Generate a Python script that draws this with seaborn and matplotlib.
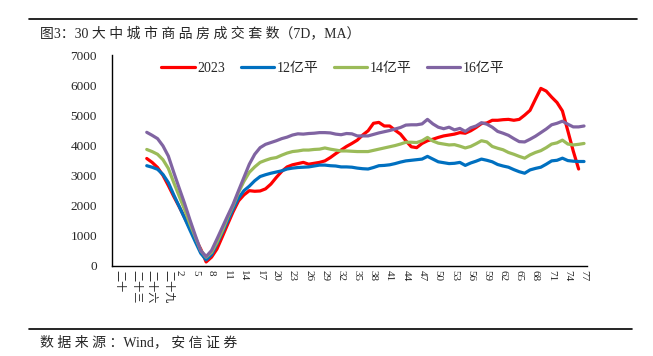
import numpy as np
import pandas as pd
import seaborn as sns
import matplotlib.pyplot as plt
from matplotlib.lines import Line2D

# day index: 0 = 腊月二十九, 1 = 正月初一, 2 = 初二 ...
days_all = list(range(-4, 78))
days_2023 = list(range(-4, 77))

sales_2023 = [3560, 3430, 3260, 3000, 2660, 2300, 1960, 1600, 1240, 890,
              550, 120, 280, 550, 960, 1380, 1790, 2150, 2350, 2490,
              2470, 2480, 2550, 2710, 2930, 3130, 3280, 3350, 3390, 3430,
              3370, 3400, 3430, 3480, 3590, 3720, 3840, 3960, 4060, 4170,
              4340, 4480, 4730, 4760, 4640, 4640, 4500, 4370, 4150, 3950,
              3920, 4060, 4150, 4200, 4260, 4310, 4340, 4370, 4420, 4400,
              4480, 4590, 4720, 4740, 4830, 4830, 4850, 4860, 4830, 4860,
              5000, 5160, 5530, 5890, 5800, 5600, 5420, 5140, 4480, 3810,
              3210]
area_12 = [3320, 3270, 3200, 3030, 2760, 2350, 1970, 1580, 1180, 790,
           410, 190, 360, 720, 1100, 1490, 1880, 2240, 2490, 2640,
           2820, 2960, 3020, 3070, 3110, 3150, 3210, 3240, 3260, 3270,
           3280, 3310, 3340, 3340, 3320, 3310, 3280, 3280, 3270, 3240,
           3220, 3210, 3260, 3320, 3330, 3350, 3390, 3440, 3480, 3500,
           3520, 3540, 3630, 3540, 3450, 3420, 3390, 3400, 3430, 3330,
           3410, 3470, 3540, 3500, 3450, 3360, 3310, 3270, 3190, 3120,
           3070, 3180, 3230, 3270, 3370, 3480, 3500, 3570, 3490, 3470,
           3460, 3460]
area_14 = [3860, 3790, 3700, 3520, 3230, 2760, 2310, 1870, 1390, 950,
           500, 280, 440, 770, 1160, 1600, 1990, 2430, 2800, 3100,
           3280, 3430, 3500, 3560, 3590, 3670, 3740, 3790, 3810, 3840,
           3840, 3860, 3870, 3910, 3870, 3840, 3810, 3810, 3800, 3790,
           3790, 3790, 3830, 3870, 3910, 3950, 3990, 4040, 4100, 4100,
           4090, 4150, 4260, 4140, 4070, 4040, 4010, 4020, 3970, 3910,
           3960, 4050, 4150, 4110, 3960, 3900, 3850, 3760, 3700, 3630,
           3570, 3680, 3760, 3820, 3920, 4040, 4080, 4170, 4040, 4010,
           4030, 4060]
area_16 = [4430, 4330, 4220, 3980, 3640, 3100, 2580, 2070, 1520, 1000,
           500, 300, 500, 880, 1270, 1660, 2040, 2490, 2930, 3370,
           3700, 3920, 4030, 4090, 4150, 4220, 4270, 4340, 4380, 4370,
           4390, 4400, 4420, 4420, 4410, 4370, 4350, 4390, 4380, 4310,
           4310, 4310, 4360, 4410, 4450, 4490, 4540, 4590, 4670, 4680,
           4680, 4710, 4860, 4710, 4600, 4550, 4600, 4510, 4560, 4460,
           4580, 4640, 4750, 4700, 4600, 4460, 4400, 4330, 4220, 4120,
           4110, 4200, 4300, 4420, 4540, 4680, 4730, 4800, 4700, 4610,
           4610, 4640]

series_names = ['2023', '12亿平', '14亿平', '16亿平']
palette = ['#FF0000', '#0070C0', '#9BBB59', '#8064A2']

tick_pos = [-9, -6, -3, 0] + list(range(2, 78, 3))
tick_labels = ['二十', '二十三', '二十六', '二十九'] + [str(d) for d in range(2, 78, 3)]

df = pd.concat([
    pd.DataFrame({'day': days_2023, 'value': sales_2023, 'series': series_names[0]}),
    pd.DataFrame({'day': days_all, 'value': area_12, 'series': series_names[1]}),
    pd.DataFrame({'day': days_all, 'value': area_14, 'series': series_names[2]}),
    pd.DataFrame({'day': days_all, 'value': area_16, 'series': series_names[3]}),
])

sns.set_style('white')
plt.rcParams['font.family'] = ['Liberation Serif', 'Noto Sans CJK SC']

fig = plt.figure(figsize=(6.53, 3.56), dpi=100)
ax = fig.add_axes([0.171, 0.254, 0.7275, 0.5915])

sns.lineplot(data=df, x='day', y='value', hue='series', hue_order=series_names,
             palette=palette, linewidth=2.3, ax=ax)

ax.set_xlim(-10.5, 77.5)
ax.set_ylim(0, 7000)
ax.set_yticks(range(0, 7001, 1000))
ax.set_xticks(tick_pos)
ax.set_xticklabels(tick_labels, rotation=-90, fontsize=8)
ax.set_xticks(np.arange(-10.5, 78, 1), minor=True)
ax.set_xlabel('')
ax.set_ylabel('')

for side in ['top', 'right']:
    ax.spines[side].set_visible(False)
for side in ['left', 'bottom']:
    ax.spines[side].set_color('black')
    ax.spines[side].set_linewidth(1)

ax.tick_params(axis='x', which='major', length=0, pad=3)
ax.tick_params(axis='x', which='minor', length=3, width=0.8, direction='out', color='black')
ax.tick_params(axis='y', length=3.5, width=1, direction='out', color='black', pad=7, labelsize=9.5)
ax.grid(False)

handles, labels = ax.get_legend_handles_labels()
ax.legend(handles, labels, loc='center', bbox_to_anchor=(0.466, 0.938), ncol=4,
          frameon=False, fontsize=10, handlelength=2.4, handletextpad=0.2,
          columnspacing=1.1)

fig.add_artist(Line2D([0.044, 0.975], [0.947, 0.947], color='black', lw=1.2))
fig.add_artist(Line2D([0.044, 0.968], [0.076, 0.076], color='black', lw=1.2))
fig.text(0.061, 0.907, '图3：30 大 中 城 市 商 品 房 成 交 套 数（7D，MA）',
         fontsize=10, va='center', ha='left')
fig.text(0.061, 0.037, '数 据 来 源 ：Wind， 安 信 证 券',
         fontsize=10, va='center', ha='left')

fig.savefig('out.png', dpi=100)
